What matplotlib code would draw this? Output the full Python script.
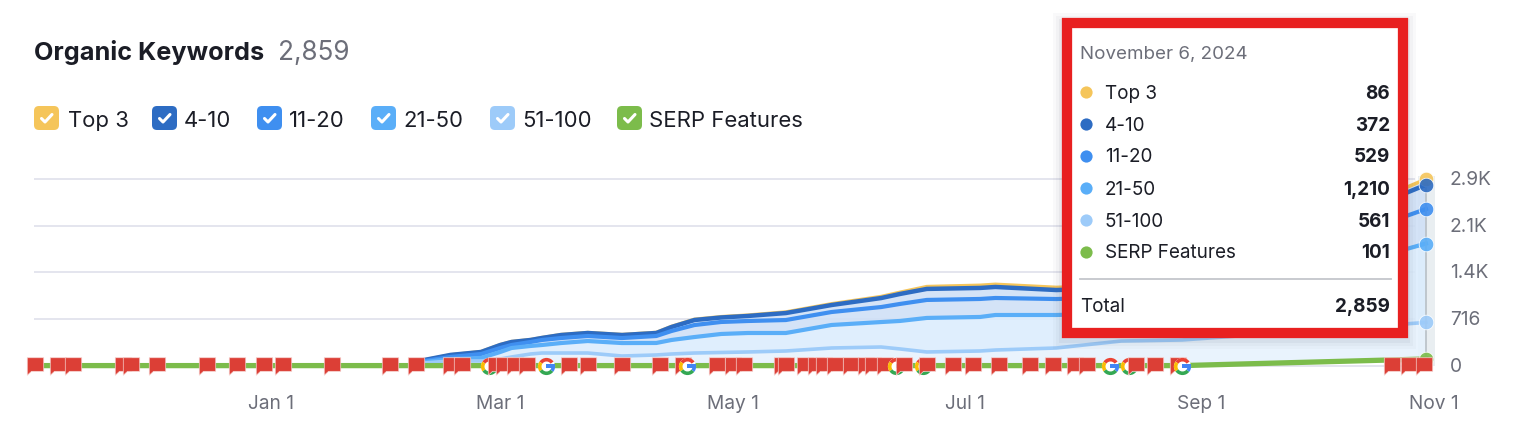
import matplotlib
matplotlib.use("Agg")
import matplotlib.pyplot as plt
import numpy as np
from matplotlib.patches import FancyBboxPatch, Rectangle, Wedge
from matplotlib.path import Path
from matplotlib.transforms import ScaledTranslation

plt.rcParams["font.family"] = ["Inter", "DejaVu Sans"]

# days counted from Jan 1 2024
days = [-62, 36, 40, 47, 55, 60, 63, 68, 71, 76, 83, 92, 101, 105, 111, 118, 125, 135, 147, 160, 165, 172, 186, 190, 206, 223, 239, 303]
serp = [0, 0, 0, 0, 0, 0, 0, 0, 0, 0, 0, 0, 0, 0, 0, 0, 0, 0, 0, 0, 0, 0, 0, 0, 0, 0, 0, 101]
kw_51_100 = [0, 0, 40, 71, 71, 101, 132, 178, 193, 193, 193, 147, 163, 178, 193, 201, 209, 224, 270, 285, 255, 209, 224, 239, 270, 377, 393, 561]
kw_21_50 = [0, 0, 15, 31, 46, 107, 138, 123, 123, 153, 184, 199, 184, 215, 245, 284, 291, 276, 353, 383, 430, 522, 522, 537, 506, 430, 430, 1210]
kw_11_20 = [0, 0, 15, 31, 61, 61, 46, 61, 77, 77, 77, 77, 107, 138, 184, 184, 184, 199, 199, 230, 261, 276, 276, 261, 245, 245, 261, 529]
kw_4_10 = [0, 0, 15, 31, 31, 46, 46, 31, 31, 46, 46, 46, 46, 61, 77, 69, 77, 107, 107, 138, 153, 169, 169, 169, 138, 138, 153, 372]
kw_top3 = [0, 0, 0, 0, 5, 5, 5, 5, 5, 6, 6, 6, 8, 8, 10, 11, 12, 15, 18, 22, 25, 35, 40, 40, 40, 40, 45, 86]

flag_days = [-62, -56, -52, -39, -37, -30, -17, -9, -2, 3, 16, 31, 38, 47, 50,
             59, 61, 64, 67, 78, 83, 92, 102, 108, 117, 121, 124, 134, 135, 140, 143,
             145, 148, 152, 156, 158, 161, 166, 172, 179, 184, 191, 199, 205, 211, 214,
             227, 232, 238, 294, 298.5, 302.5]
google_days = [57, 72, 109, 164, 171, 220, 225, 239]

tick_days = [0, 60, 121, 182, 244, 305]
tick_labels = ["Jan 1", "Mar 1", "May 1", "Jul 1", "Sep 1", "Nov 1"]
y_ticks = [0, 716, 1432, 2148, 2864]
y_labels = ["0", "716", "1.4K", "2.1K", "2.9K"]

legend_names = ["Top 3", "4-10", "11-20", "21-50", "51-100", "SERP Features"]
tooltip_values = ["86", "372", "529", "1,210", "561", "101"]

colors = ["#f5c55a", "#2d6cc3", "#3f8ff0", "#5aaef8", "#9dcbf9", "#7cbc4b"]
GREY = "#6c6e79"
DARK = "#1b1d26"
RED = "#dc3f36"

W, H = 1518, 428
fig = plt.figure(figsize=(W / 100, H / 100), dpi=100, facecolor="white")
ax = fig.add_axes([0, 0, 1, 1])
ax.set_xlim(-271.5 / 3.81, (W - 271.5) / 3.81)
ax.set_ylim((365.6 - H) / 0.0652, 365.6 / 0.0652)
for s in ax.spines.values():
    s.set_visible(False)
ax.patch.set_visible(False)

ax.set_xticks(tick_days, tick_labels)
ax.yaxis.tick_right()
ax.set_yticks(y_ticks, y_labels)
ax.tick_params(axis="x", length=0, pad=-24, labelsize=13.8, labelcolor=GREY)
ax.tick_params(axis="y", length=0, pad=-49, labelsize=13.8, labelcolor=GREY)
for lab in ax.get_yticklabels():
    lab.set_transform(lab.get_transform() + ScaledTranslation(0, 1 / 100, fig.dpi_scale_trans))

ax.hlines(y_ticks, -62.3, 300, color="#e4e5ee", lw=1.4, zorder=1)

# hover band
ax.axvspan(300.8, 305.5, ymin=(H - 366) / H, ymax=(H - 176) / H, color="#e9eef1", lw=0, zorder=1.2)

# stacked from the bottom
x = np.array(days, dtype=float)
bands = [serp, kw_51_100, kw_21_50, kw_11_20, kw_4_10, kw_top3]
stack = np.cumsum(np.array(bands, dtype=float), axis=0)
fill_cols = ["#e6f2fd", "#e6f2fd", "#dbecfd", "#cfe0f6", "#cfe0f6", "#cfe0f6"]
for i in range(1, 6):
    ax.fill_between(x, stack[i - 1], stack[i], color=fill_cols[i], lw=0, alpha=0.88, zorder=1.5)

line_cols = [colors[5], colors[4], colors[3], colors[2], colors[1], colors[0]]
line_w = [3.8, 2.6, 3.0, 3.0, 3.2, 2.6]
for i in [5, 4, 3, 2, 1, 0]:
    ax.plot(x, stack[i], color=line_cols[i], lw=line_w[i], solid_joinstyle="round", zorder=2)

# hover guide and dots
ax.vlines(x[-1], 0, stack[-1, -1], color="#b9c0c6", lw=1.2, zorder=2.5)
for i in [5, 4, 3, 2, 1, 0]:
    ax.plot(x[-1], stack[i, -1], "o", ms=10.5, color=line_cols[i], mec="white", mew=0.6, alpha=0.9, zorder=2.6)

# annotation markers
flag_path = Path([(-0.94, 1), (0.94, 1), (0.94, -0.55), (-0.45, -0.55), (-0.94, -1), (-0.94, 1)], closed=True)


def ring(t1, t2):
    return Wedge((0, 0), 1, t1, t2, width=0.42).get_path()


g_parts = [
    (ring(35, 145), "#ea4335"),
    (ring(145, 215), "#fbbc05"),
    (ring(215, 322), "#34a853"),
    (ring(322, 360), "#4285f4"),
    (Path([(0, -0.18), (1, -0.18), (1, 0.2), (0, 0.2), (0, -0.18)], closed=True), "#4285f4"),
]

events = sorted([(d, "flag") for d in flag_days] + [(d, "g") for d in google_days])
z = 3.0
for d, kind in events:
    z += 0.01
    if kind == "flag":
        ax.plot(d, 0, marker=flag_path, ms=12.6, color=RED, mec="#f6d3d0", mew=0.5, zorder=z)
    else:
        ax.plot(d, 0, "o", ms=12.4, color="white", mew=0, zorder=z)
        for part, c in g_parts:
            ax.plot(d, 0, marker=part, ms=12.4, color=c, mew=0, zorder=z)

# page chrome, in pixels
ov = fig.add_axes([0, 0, 1, 1], zorder=10)
ov.set_xlim(0, W)
ov.set_ylim(H, 0)
ov.axis("off")

ov.text(34, 52, "Organic Keywords", fontsize=18.2, fontweight="bold", color=DARK, va="center")
ov.text(278, 53, "2,859", fontsize=18.8, color=GREY, va="center")

box_x = [34, 152, 257, 371, 490, 617]
text_x = [68, 184, 289, 403, 522, 649]
for bx, tx, name, c in zip(box_x, text_x, legend_names, colors):
    ov.add_patch(FancyBboxPatch((bx + 4, 110), 17, 17 - 1, boxstyle="round,pad=4,rounding_size=5", fc=c, ec="none"))
    ov.plot([bx + 7.5, bx + 11, bx + 18], [118.5, 122, 114.5], color="white", lw=2.2, solid_capstyle="round")
    ov.text(tx, 120.5, name, fontsize=15.9, color=DARK, va="center")

# tooltip
for grow, a in [(8, 0.03), (5, 0.04), (2, 0.06)]:
    ov.add_patch(Rectangle((1061 - grow, 18 - grow + 3), 347 + 2 * grow, 320 + 2 * grow, fc="#50586a", ec="none", alpha=a))
ov.add_patch(Rectangle((1066.5, 23), 336.5, 309.5, fc="white", ec="#e82020", lw=7.4))

ov.text(1080, 54.5, "November 6, 2024", fontsize=13.5, color=GREY, va="center")
rows = [92, 124, 156, 188, 220, 252]
for ry, name, val, c in zip(rows, legend_names, tooltip_values, colors):
    ov.plot(1086, ry, "o", ms=8.8, color=c, mew=0)
    ov.text(1105, ry + 1.5, name, fontsize=13.6, color=DARK, va="center")
    ov.text(1390, ry + 1.5, val, fontsize=13.6, fontweight="bold", color=DARK, va="center", ha="right")
ov.plot([1080, 1391], [279, 279], color="#c4c6cc", lw=1.3)
ov.text(1080, 306.5, "Total", fontsize=13.6, color=DARK, va="center")
ov.text(1390, 306.5, "2,859", fontsize=13.6, fontweight="bold", color=DARK, va="center", ha="right")

fig.savefig("out.png", dpi=100)
